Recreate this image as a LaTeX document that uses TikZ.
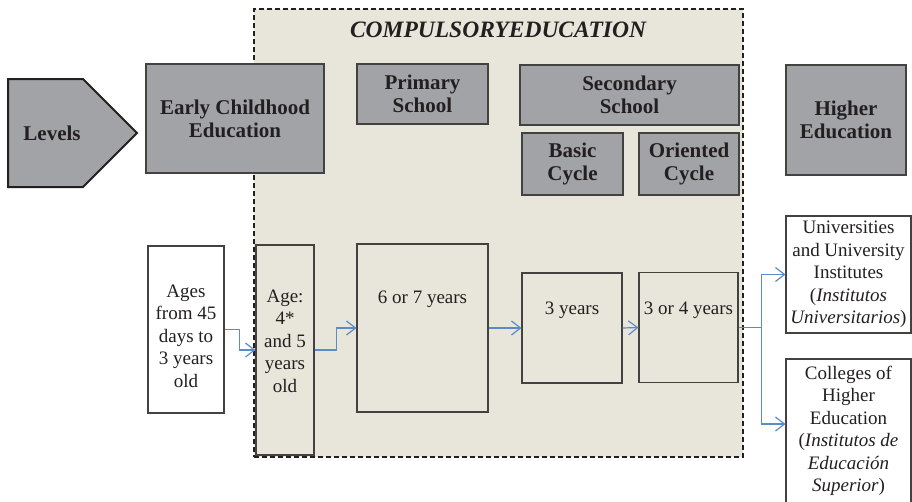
\documentclass[tikz,border=0pt]{standalone}
\usepackage{fontspec}
\setmainfont{Liberation Serif}
\usetikzlibrary{arrows.meta}
\definecolor{grayfill}{HTML}{A2A3A7}
\definecolor{beige}{HTML}{E8E5DA}
\definecolor{ink}{HTML}{231F20}
\definecolor{arrowblue}{HTML}{5B8BC9}
\begin{document}
\begin{tikzpicture}[x=1pt,y=-1pt,
  hdr/.style={draw=ink!85, line width=1.3pt, fill=grayfill, text=ink, font=\fontsize{21}{23}\selectfont\bfseries, align=center, inner sep=0pt},
  plain/.style={draw=ink!85, line width=1.1pt, text=ink, font=\fontsize{19}{22.5}\selectfont, align=center, inner sep=0pt},
  txt/.style={text=ink, font=\fontsize{19}{22.5}\selectfont, align=center, inner sep=0pt},
  flow/.style={draw=arrowblue, line width=1.2pt, -{Straight Barb[length=9pt,width=14pt,line width=1.2pt]}},
  sz/.style 2 args={minimum width=#1pt, minimum height=#2pt}
]
\useasboundingbox (0,0) rectangle (912,501);
% compulsory education frame
\node[draw=ink, dash pattern=on 5pt off 3pt, line width=1.8pt, fill=beige, sz={489}{448}] (comp) at (498.5,233) {};
\node[text=ink, font=\fontsize{23.5}{26}\selectfont\bfseries\itshape, inner sep=0pt] (title) at (498,30) {COMPULSORYEDUCATION};
% levels arrow
\draw[line width=2pt, draw=ink, fill=grayfill] (8,79) -- (83,79) -- (137,133) -- (83,187) -- (8,187) -- cycle;
\node[text=ink, font=\fontsize{21}{23}\selectfont\bfseries, inner sep=0pt] (levels) at (52,133) {Levels};
% header boxes
\node[hdr, sz={178}{109}] (ecb) at (235,118.5) {Early Childhood\\Education};
\node[hdr, sz={131}{60}] (prim) at (422.5,94) {Primary\\School};
\node[hdr, sz={219}{60}] (sec) at (629.5,95) {Secondary\\School};
\node[hdr, sz={101}{62}] (basic) at (572.5,164) {Basic\\Cycle};
\node[hdr, sz={100}{62}] (orient) at (689,164) {Oriented\\Cycle};
\node[hdr, sz={120}{110}] (higher) at (846,120) {Higher\\Education};
% bottom boxes
\node[plain, fill=white, sz={76}{167}] (ages) at (186,329.5) {};
\node[txt] (agestxt) at (186,336) {Ages\\from 45\\days to\\3 years\\old};
\node[plain, fill=beige, sz={58}{210}] (age4) at (285,350) {};
\node[txt] (age4txt) at (285,341) {Age:\\4*\\and 5\\years\\old};
\node[plain, fill=beige, sz={131}{168}] (p67) at (422.5,328) {};
\node[txt] (p67txt) at (422.5,299) {6 or 7 years};
\node[plain, fill=beige, sz={100}{110}] (sec3) at (572,328) {};
\node[txt] (sec3txt) at (572,310) {3 years};
\node[plain, fill=beige, sz={99}{110}] (or4) at (688.5,327.5) {};
\node[txt] (or4txt) at (688.5,310) {3 or 4 years};
\node[plain, fill=white, sz={125}{117}] (univ) at (848.5,274.5) {Universities\\and University\\Institutes\\(\textit{Institutos}\\\textit{Universitarios})};
\node[plain, fill=white, sz={125}{144}] (coll) at (848.5,431) {Colleges of\\Higher\\Education\\(\textit{Institutos de}\\\textit{Educación}\\\textit{Superior})};
% connectors
\draw[flow] (ages.east) -- ++(15,0) |- (age4.west);
\draw[flow] (age4.east) -- ++(22,0) |- (p67.west);
\draw[flow] (p67.east) -- (sec3.west);
\draw[flow] (sec3.east) -- (or4.west);
\draw[flow] (or4.east) -- ++(23,0) |- (univ.west);
\draw[flow] (or4.east) -- ++(23,0) |- ([yshift=7pt]coll.west);
\end{tikzpicture}
\end{document}
